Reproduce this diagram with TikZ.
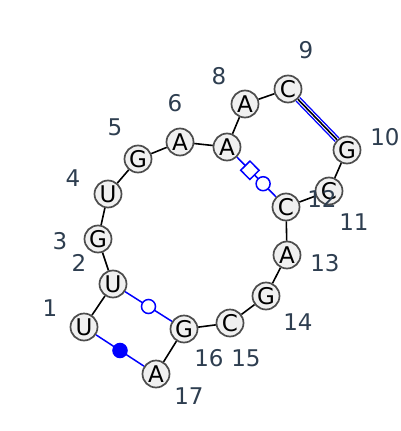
\documentclass[tikz,border=0pt]{standalone}
\usepackage{fontspec}
\setmainfont{DejaVu Sans}
\definecolor{ntfill}{HTML}{F0F0F0}
\definecolor{ntline}{HTML}{4D4D4D}
\definecolor{numcol}{HTML}{2E3E50}
\begin{document}
\begin{tikzpicture}[x=1pt,y=-1pt,
  nt/.style={circle,draw=ntline,fill=ntfill,line width=1.7pt,minimum size=27pt,inner sep=0pt,font=\fontsize{23}{23}\selectfont},
  num/.style={text=numcol,font=\fontsize{23}{23}\selectfont},
  bb/.style={black,line width=1.6pt},
  pair/.style={blue,line width=1.5pt},
  wcpair/.style={blue,line width=1.4pt,double=white,double distance=3.6pt},
  opencirc/.style={circle,draw=blue,fill=white,line width=1.5pt,minimum size=14pt,inner sep=0pt},
  fillcirc/.style={circle,draw=blue,fill=blue,line width=1.5pt,minimum size=14pt,inner sep=0pt},
  sqmark/.style={rectangle,draw=blue,fill=white,line width=1.5pt,minimum size=13pt,inner sep=0pt}]
\useasboundingbox (0,0) rectangle (400,431);
\node[nt] (n1) at (84,327) {U};
\node[nt] (n2) at (113,284) {U};
\node[nt] (n3) at (98,239) {G};
\node[nt] (n4) at (108,194) {U};
\node[nt] (n5) at (138,159) {G};
\node[nt] (n6) at (180,142) {A};
\node[nt] (n7) at (227,147) {A};
\node[nt] (n8) at (245,104) {A};
\node[nt] (n9) at (288,89) {C};
\node[nt] (n10) at (347,150) {G};
\node[nt] (n11) at (329,191) {C};
\node[nt] (n12) at (286,207) {C};
\node[nt] (n13) at (287,255) {A};
\node[nt] (n14) at (266,296) {G};
\node[nt] (n15) at (230,323) {C};
\node[nt] (n16) at (184,329) {G};
\node[nt] (n17) at (156,374) {A};
\draw[wcpair] (n9) -- (n10);
\draw[pair] (n7) -- (n12) node[sqmark,pos=0.33,sloped]{} node[opencirc,pos=0.67]{};
\draw[pair] (n2) -- (n16) node[opencirc,midway]{};
\draw[pair] (n1) -- (n17) node[fillcirc,midway]{};
\foreach \a/\b in {1/2,2/3,3/4,4/5,5/6,6/7,7/8,8/9,9/10,10/11,11/12,12/13,13/14,14/15,15/16,16/17}
  \draw[bb] (n\a) -- (n\b);
\node[num] (l1) at (50,308) {1};
\node[num] (l2) at (79,263) {2};
\node[num] (l3) at (60,241) {3};
\node[num] (l4) at (73,178) {4};
\node[num] (l5) at (115,127) {5};
\node[num] (l6) at (175,103) {6};
\node[num] (l7) at (219,76) {8};
\node[num] (l9) at (306,50) {9};
\node[num] (l10) at (385,137) {10};
\node[num] (l11) at (354,222) {11};
\node[num] (l12) at (322,199) {12};
\node[num] (l13) at (325,263) {13};
\node[num] (l14) at (298,322) {14};
\node[num] (l15) at (246,358) {15};
\node[num] (l16) at (209,358) {16};
\node[num] (l17) at (189,396) {17};
\end{tikzpicture}
\end{document}
